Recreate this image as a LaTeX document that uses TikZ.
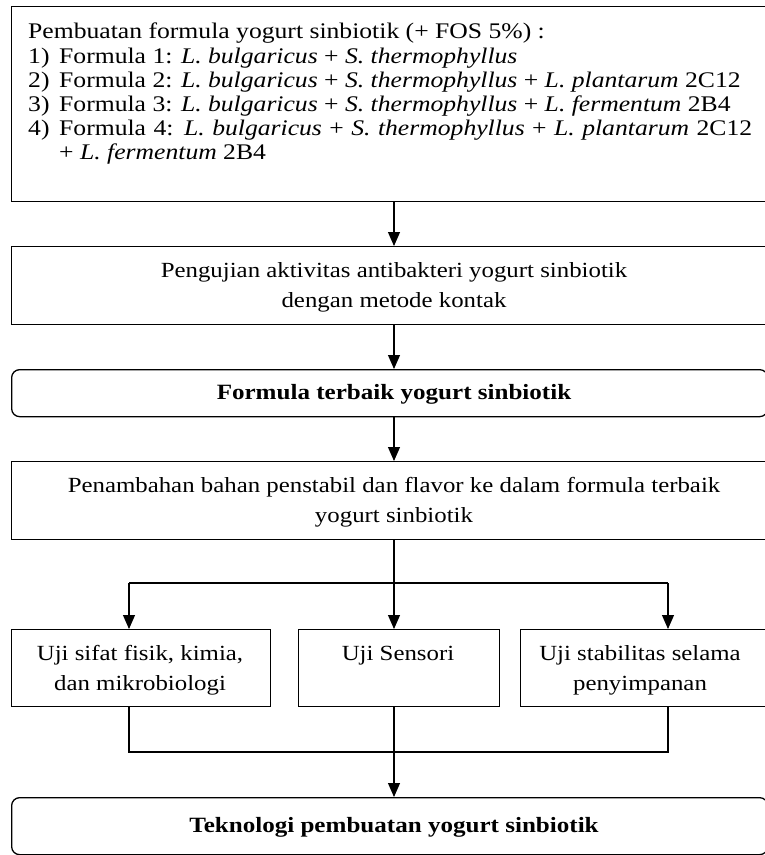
\documentclass[tikz,border=0pt]{standalone}
\usepackage{fontspec}
\setmainfont{Liberation Serif}[FakeStretch=1.15]
\usetikzlibrary{arrows.meta}
\begin{document}
\begin{tikzpicture}[x=1pt,y=-1pt,
  box/.style={draw, line width=1.3pt, inner sep=0pt, anchor=north west},
  rbox/.style={box, rounded corners=8pt},
  txt/.style={font=\fontsize{21.6}{24}\selectfont, inner sep=0pt},
  ttxt/.style={font=\fontsize{22.3}{24}\selectfont, inner sep=0pt, anchor=base west},
  btxt/.style={txt, font=\fontsize{21.8}{24}\selectfont\bfseries},
  arr/.style={line width=1.1pt, -{Triangle[length=14pt,width=12pt]}},
  ln/.style={line width=1.1pt}]
\useasboundingbox (0,0) rectangle (765,855);
% boxes
\node[box, minimum width=756pt, minimum height=195pt] (b1) at (11,6) {};
\node[box, minimum width=756pt, minimum height=78pt] (b2) at (11,246) {};
\node[rbox, minimum width=756pt, minimum height=47pt] (b3) at (11,369) {};
\node[box, minimum width=756pt, minimum height=78pt] (b4) at (11,461) {};
\node[box, minimum width=259pt, minimum height=77pt] (bA) at (11,629) {};
\node[box, minimum width=201pt, minimum height=77pt] (bB) at (298,629) {};
\node[box, minimum width=247pt, minimum height=77pt] (bC) at (520,629) {};
\node[rbox, minimum width=756pt, minimum height=57pt] (b5) at (11,797) {};
% texts
\node[ttxt] (t0) at (28,38) {Pembuatan formula yogurt sinbiotik (+ FOS 5\%) :};
\node[ttxt] (n1) at (28,63) {1)};
\node[ttxt] (f1) at (59,63) {Formula 1: \textit{L. bulgaricus} + \textit{S. thermophyllus}};
\node[ttxt] (n2) at (28,87) {2)};
\node[ttxt] (f2) at (59,87) {Formula 2: \textit{L. bulgaricus} + \textit{S. thermophyllus} + \textit{L. plantarum} 2C12};
\node[ttxt] (n3) at (28,111) {3)};
\node[ttxt] (f3) at (59,111) {Formula 3: \textit{L. bulgaricus} + \textit{S. thermophyllus} + \textit{L. fermentum} 2B4};
\node[ttxt] (n4) at (28,135) {4)};
\node[ttxt] (f4) at (59,135) {\makebox[693pt][s]{Formula 4: \textit{L. bulgaricus} + \textit{S. thermophyllus} + \textit{L. plantarum} 2C12}};
\node[ttxt] (f4b) at (59,159) {+ \textit{L. fermentum} 2B4};
\node[txt, anchor=base] (t2a) at (394,277) {Pengujian aktivitas antibakteri yogurt sinbiotik};
\node[txt, anchor=base] (t2b) at (394,307) {dengan metode kontak};
\node[btxt, anchor=base] (t3) at (394,399) {Formula terbaik yogurt sinbiotik};
\node[txt, anchor=base] (t4a) at (394,492) {Penambahan bahan penstabil dan flavor ke dalam formula terbaik};
\node[txt, anchor=base] (t4b) at (394,522) {yogurt sinbiotik};
\node[txt, anchor=base] (tAa) at (140,660) {Uji sifat fisik, kimia,};
\node[txt, anchor=base] (tAb) at (140,690) {dan mikrobiologi};
\node[txt, anchor=base] (tB) at (398,660) {Uji Sensori};
\node[txt, anchor=base] (tCa) at (640,660) {Uji stabilitas selama};
\node[txt, anchor=base] (tCb) at (640,690) {penyimpanan};
\node[btxt, anchor=base] (t5) at (394,832) {Teknologi pembuatan yogurt sinbiotik};
% connectors
\coordinate (xc) at (394,0);
\coordinate (xa) at (129,0);
\coordinate (xr) at (668,0);
\coordinate (split) at (0,583);
\coordinate (join) at (0,752);
\draw[arr] (b1.south -| xc) -- (b2.north -| xc);
\draw[arr] (b2.south -| xc) -- (b3.north -| xc);
\draw[arr] (b3.south -| xc) -- (b4.north -| xc);
\draw[ln] (b4.south -| xc) -- (xc |- split);
\draw[ln] (xa |- split) -- (xr |- split);
\draw[arr] (xa |- split) -- (bA.north -| xa);
\draw[arr] (xc |- split) -- (bB.north -| xc);
\draw[arr] (xr |- split) -- (bC.north -| xr);
\draw[ln] (bA.south -| xa) -- (xa |- join) -- (xr |- join) -- (bC.south -| xr);
\draw[ln] (bB.south -| xc) -- (xc |- join);
\draw[arr] (xc |- join) -- (b5.north -| xc);
\end{tikzpicture}
\end{document}
